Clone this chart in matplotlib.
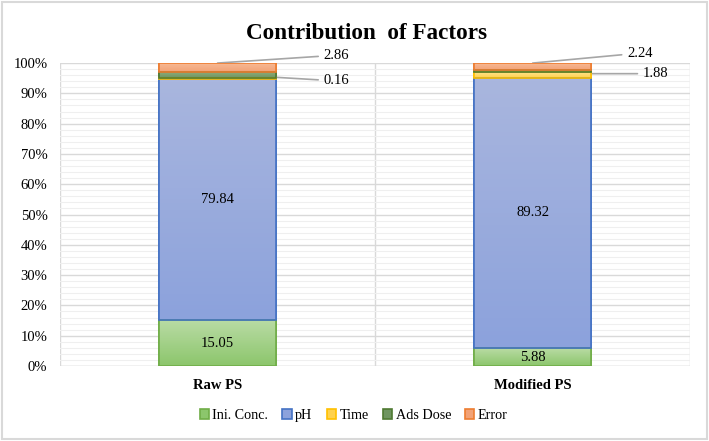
import numpy as np
import matplotlib.pyplot as plt
from matplotlib.colors import LinearSegmentedColormap
from matplotlib.patches import Rectangle

plt.rcParams['font.family'] = ['Liberation Serif', 'DejaVu Serif']

# data (percent contribution)
samples = ['Raw PS', 'Modified PS']
factors = ['Ini. Conc.', 'pH', 'Time', 'Ads Dose', 'Error']
ini_conc = [15.05, 5.88]
ph = [79.84, 89.32]
time_ = [0.16, 1.88]
ads_dose = [2.09, 0.68]
error = [2.86, 2.24]

series = [ini_conc, ph, time_, ads_dose, error]
# (top colour, bottom colour, edge colour)
styles = [('#b9dba4', '#8cc66c', '#70ad47'),
          ('#a9b6de', '#8ca2dc', '#4472c4'),
          ('#ffe28a', '#ffd24d', '#ffc000'),
          ('#8fae7e', '#6f9560', '#4f7a32'),
          ('#f7b994', '#f2a276', '#ed7d31')]

fig = plt.figure(figsize=(7.09, 4.41), dpi=100)
ax = fig.add_axes([0.0846, 0.170, 0.889, 0.687])

x = np.arange(len(samples))
width = 0.37
bottom = np.zeros(len(samples))
for vals, (ctop, cbot, cedge), name in zip(series, styles, factors):
    bars = ax.bar(x, vals, width, bottom=bottom, color=cbot, edgecolor=cedge,
                  linewidth=1.2, label=name, zorder=3)
    cmap = LinearSegmentedColormap.from_list(name, [cbot, ctop])
    for b in bars:
        bx, by = b.get_x(), b.get_y()
        bw, bh = b.get_width(), b.get_height()
        grad = np.linspace(0, 1, 64).reshape(-1, 1)
        im = ax.imshow(grad, cmap=cmap, origin='lower', aspect='auto',
                       extent=[bx, bx + bw, by, by + bh], zorder=3.5)
        im.set_clip_path(b)
        ax.add_patch(Rectangle((bx, by), bw, bh, fill=False, edgecolor=cedge,
                               linewidth=1.2, zorder=4))
    bottom += np.array(vals)

# labels inside large segments
for i in range(len(samples)):
    ax.text(x[i], ini_conc[i] / 2, f'{ini_conc[i]:.2f}', ha='center', va='center',
            fontsize=10.5, zorder=5)
    ax.text(x[i], ini_conc[i] + ph[i] / 2, f'{ph[i]:.2f}', ha='center', va='center',
            fontsize=10.5, zorder=5)

# labels with leader lines for small segments
lead = dict(color='#a6a6a6', lw=1.2)
ax.annotate(f'{error[0]:.2f}', xy=(x[0], 100), xytext=(x[0] + 0.337, 102.6),
            fontsize=10.5, va='center', ha='left', annotation_clip=False,
            arrowprops=dict(arrowstyle='-', shrinkA=2, shrinkB=0, **lead))
ax.annotate(f'{time_[0]:.2f}', xy=(x[0] + width / 2, 95.3), xytext=(x[0] + 0.337, 94.1),
            fontsize=10.5, va='center', ha='left', annotation_clip=False,
            arrowprops=dict(arrowstyle='-', shrinkA=2, shrinkB=0, **lead))
ax.annotate(f'{error[1]:.2f}', xy=(x[1], 100), xytext=(x[1] + 0.30, 103.3),
            fontsize=10.5, va='center', ha='left', annotation_clip=False,
            arrowprops=dict(arrowstyle='-', shrinkA=2, shrinkB=0, **lead))
ax.annotate(f'{time_[1]:.2f}', xy=(x[1] + width / 2, 96.5), xytext=(x[1] + 0.35, 96.5),
            fontsize=10.5, va='center', ha='left', annotation_clip=False,
            arrowprops=dict(arrowstyle='-', shrinkA=2, shrinkB=0, **lead))

ax.set_xlim(-0.5, 1.5)
ax.set_ylim(0, 100)
ax.set_yticks(np.arange(0, 101, 10))
ax.set_yticklabels([f'{v}%' for v in range(0, 101, 10)], fontsize=10.5)
ax.set_yticks(np.arange(0, 101, 2), minor=True)
ax.set_xticks(x)
ax.set_xticklabels(samples, fontsize=10.5, fontweight='bold')
ax.tick_params(axis='both', length=0, pad=9)
ax.tick_params(axis='y', which='minor', length=0)
ax.grid(axis='y', which='major', color='#d9d9d9', lw=1.0, zorder=0)
ax.grid(axis='y', which='minor', color='#efefef', lw=0.8, zorder=0)
for xv in [-0.5, 0.5, 1.5]:
    ax.axvline(xv, color='#d9d9d9', lw=1.0, zorder=1)
for s in ax.spines.values():
    s.set_visible(False)
ax.axhline(0, color='#d9d9d9', lw=1.0, zorder=1)

ax.set_title('Contribution  of Factors', fontsize=16.7, fontweight='bold', pad=17, x=0.486)

handles, labels = ax.get_legend_handles_labels()
fig.legend(handles, labels, loc='center', bbox_to_anchor=(0.499, 0.058), ncol=5,
           frameon=False, fontsize=10.2, handlelength=0.65, handleheight=0.65,
           handletextpad=0.25, columnspacing=1.0)

# outer chart border
fig.patches.append(Rectangle((0.003, 0.005), 0.994, 0.99, transform=fig.transFigure,
                             fill=False, edgecolor='#d9d9d9', lw=1.5))

fig.savefig('out.png', dpi=100)
